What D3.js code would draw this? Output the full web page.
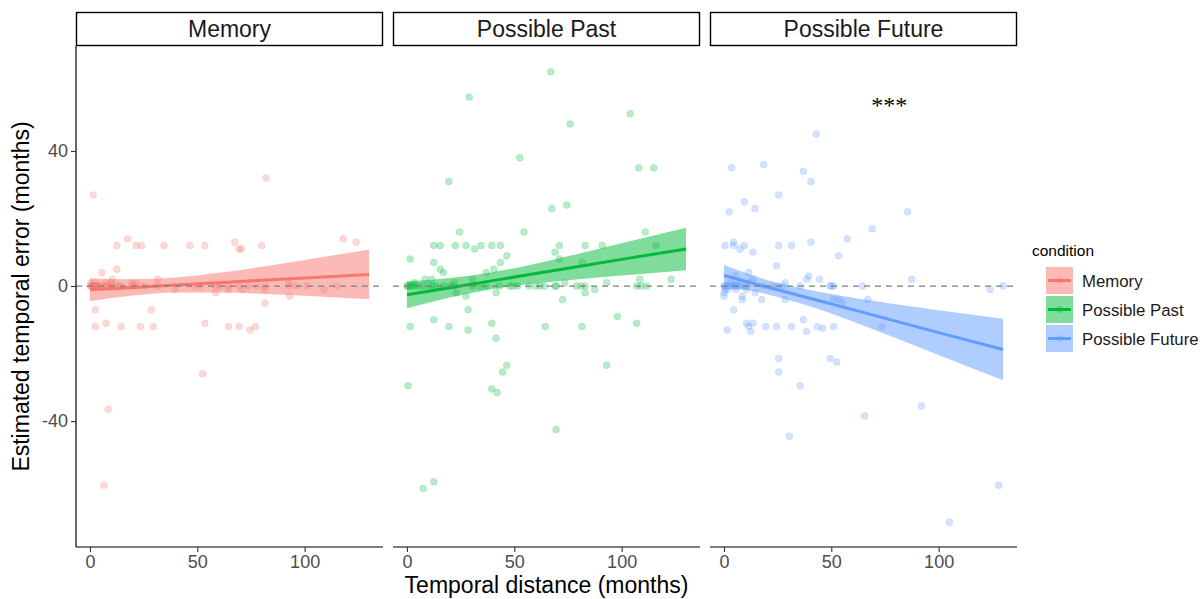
<!DOCTYPE html>
<html>
<head>
<meta charset="utf-8">
<script src="https://cdn.jsdelivr.net/npm/d3@7"></script>
<style>
  body { margin: 0; background: #fff; }
  text { font-family: "Liberation Sans", Arial, Helvetica, sans-serif; }
</style>
</head>
<body>
<svg id="chart" width="1200" height="599"></svg>
<script>
/* Data */
const conditions = ["Memory", "Possible Past", "Possible Future"];
const conditionColors = ["#F8766D", "#00BA38", "#619CFF"];

// [temporal distance, estimated error]
const memoryPoints = [
  [1.5, 27], [82, 32], [118, 14], [124, 13], [17.5, 14], [12.5, 12], [21.5, 12], [24, 12],
  [34.5, 12], [46.5, 12], [53.5, 12], [67.5, 13], [69.5, 11], [70.5, 11], [80, 12], [5.5, 4],
  [12.5, 5], [10.5, 2], [31.5, 2], [2.5, -7], [28.5, -7], [2.5, -12], [7.5, -11], [14.5, -12],
  [23.5, -12], [29.5, -12], [53.5, -11], [64.5, -12], [69.5, -12], [74.5, -13], [77, -12],
  [81.5, -5], [93, -3], [58.5, -2], [52.5, -26], [8.5, -36.5], [6.5, -59],
  [0, 0], [0.5, 0], [1, 0], [1.5, 0], [2, 0], [2.5, 0], [3, 0], [3.5, 0], [4, 0], [5, 0], [6, 0],
  [7.5, 0], [8, 0], [9, 0], [10, 0], [12, 0], [13.5, 0], [14.5, 0], [19.5, 0], [21.5, 0],
  [25.5, 0], [31.5, 0], [48.5, 0], [51, 0], [58.5, 0], [60.5, 0], [64.5, 0], [69.5, 0],
  [73.5, 0], [78, 0], [81.5, 0], [93, 0], [96, 0], [101, 0], [115, 0],
  [39.5, -1], [64.5, -1], [71, -1], [81.5, -1], [109, -1],
  [0.5, 1], [2.5, 1], [7.5, 1], [10, 1], [19.5, 1], [21.5, 1], [92.5, 1]
];

const pastPoints = [
  [67, 63.5], [29, 56], [104, 51], [76, 48], [52.5, 38], [108, 35], [115, 35], [19.5, 31],
  [67.5, 23], [74.5, 24], [24.5, 16], [54.5, 16], [111, 16], [12.5, 12], [15.5, 12], [22.5, 12],
  [27.5, 12], [31.5, 11], [34.5, 12], [39.5, 12], [43.5, 12], [71, 12], [83, 12], [91, 12],
  [116, 12], [69, 10], [71, 8], [46.5, 9], [1.5, 8], [12.5, 7], [43.5, 7], [15.5, 5], [17, 4],
  [40.5, 5], [37, 4], [81.5, 7], [8.5, 2], [11.5, 2], [30.5, 2], [123, 2], [108.5, 2], [93, 1],
  [73.5, 1], [3.5, 1], [22, 1],
  [1.5, -12], [12.5, -10], [19.5, -12], [28.5, -7], [28.5, -13], [39.5, -11], [41.5, -15.5],
  [64.5, -12], [81.5, -12], [98, -9], [107, -11], [27.5, -3], [41.5, -2], [72.5, -4], [83, -2],
  [87.5, -1], [23, -2], [0.5, -29.5], [46.5, -23.5], [44.5, -25.5], [39.5, -30.5], [42, -31.5],
  [93, -23.5], [69.5, -42.5], [7.5, -60], [12.5, -58],
  [0, 0], [0.5, 0], [1.5, 0], [2.5, 0], [3.5, 0], [5.5, 0], [7.5, 0], [10, 0], [12, 0],
  [13.5, 0], [17, 0], [20, 0], [22, 0], [30.5, 0], [34, 0], [37, 0], [43, 0], [48, 0],
  [49.5, 0], [51.5, 0], [57, 0], [60, 0], [62, 0], [64, 0], [69, 0], [69.5, 0], [79, 0],
  [81, 0], [83, 0], [107, 0], [109, 0], [111.5, 0]
];

const futurePoints = [
  [43, 45], [3.5, 35], [18.5, 36], [37, 34], [40.5, 31], [25.5, 27], [9.5, 25], [14.5, 23],
  [2.5, 22], [85.5, 22], [69, 17], [57.5, 14], [53.5, 9], [0.5, 12], [4.5, 13], [4.5, 12],
  [7.5, 11], [9.5, 12], [13.5, 10], [25.5, 12], [31.5, 12], [40.5, 13], [24.5, 6], [11.5, 4],
  [39.5, 3], [38.5, 2], [44.5, 2], [87.5, 2], [28.5, 1], [5.5, 3], [13.5, 2], [124, -1],
  [130, 0], [64.5, 0], [50, 0],
  [1.5, -13], [4.5, -7], [10.5, -11], [11.5, -12], [13.5, -11], [12.5, -13.5], [19.5, -12],
  [24.5, -12], [31.5, -12], [37, -10], [38.5, -13.5], [43.5, -12], [46, -12.5], [51, -12],
  [73.5, -12], [25.5, -21.5], [25.5, -25.5], [49.5, -21.5], [52.5, -22.5], [35.5, -29.5],
  [92, -35.5], [65.5, -38.5], [30.5, -44.5], [128, -59], [105, -70], [0, -3], [8.5, -3],
  [8.5, -4], [14.5, -2], [17.5, -4], [28.5, -4], [51, -4], [53.5, -4], [55, -5], [67, -4],
  [0, 0], [0.5, 0], [1.5, 0], [2.5, 0], [3.5, 0], [4.5, 0], [5.5, 0], [6.5, 0], [7.5, 0],
  [9.5, 0], [10.5, 0], [18.5, 0], [22.5, 0], [25, 0], [27.5, 0], [35.5, 0], [49.5, 0], [51, 0],
  [0.5, -1], [1.5, -1], [5.5, -1], [10.5, -1], [0, -2], [3, 1], [6, 1], [12, 1]
];

// linear fit with 95% band, read at these distances
const fitX = [0, 20, 40, 60, 80, 100, 130];
const memoryFit = [-1.1, -0.4, 0.3, 1.0, 1.7, 2.4, 3.45];
const memoryLow = [-4.4, -2.8, -1.9, -1.9, -2.3, -2.9, -3.95];
const memoryHigh = [2.2, 2.0, 2.5, 3.9, 5.7, 7.7, 10.85];
const pastFit = [-2.6, -0.5, 1.6, 3.7, 5.8, 7.9, 11.0];
const pastLow = [-6.6, -3.4, -0.9, 0.8, 2.0, 3.1, 4.7];
const pastHigh = [1.4, 2.4, 4.1, 6.6, 9.6, 12.7, 17.3];
const futureFit = [3.1, -0.3, -3.6, -7.0, -10.4, -13.8, -18.8];
const futureLow = [0.0, -2.4, -6.0, -10.5, -15.4, -20.4, -27.9];
const futureHigh = [6.2, 1.8, -1.2, -3.5, -5.4, -7.2, -9.7];

const xTicks = [0, 50, 100];
const yTicks = [-40, 0, 40];

// significance mark in the Possible Future panel
const starPanel = 2;
const starXY = [77, 54.5];
const starText = "***";

/* Layout */
const svg = d3.select("#chart");
const panelLeft = [76, 393, 710];
const panelWidth = 307;
const plotTop = 46;
const plotBottom = 547;

const xScale = d3.scaleLinear().domain([-6.5, 136.5]).range([0, panelWidth]);
const yScale = d3.scaleLinear().domain([-77.3, 71.1]).range([plotBottom, plotTop]);
const plainNumber = (d) => String(d);

const series = [
  { points: memoryPoints, fit: memoryFit, low: memoryLow, high: memoryHigh },
  { points: pastPoints, fit: pastFit, low: pastLow, high: pastHigh },
  { points: futurePoints, fit: futureFit, low: futureLow, high: futureHigh }
];

const area = d3.area()
  .x((d) => xScale(d.x))
  .y0((d) => yScale(d.lo))
  .y1((d) => yScale(d.hi))
  .curve(d3.curveMonotoneX);

const line = d3.line()
  .x((d) => xScale(d.x))
  .y((d) => yScale(d.fit));

series.forEach((s, i) => {
  const color = conditionColors[i];
  const g = svg.append("g").attr("transform", `translate(${panelLeft[i]},0)`);
  const band = fitX.map((x, k) => ({ x: x, fit: s.fit[k], lo: s.low[k], hi: s.high[k] }));

  // points
  g.selectAll(".point")
    .data(s.points)
    .enter()
    .append("circle")
    .attr("class", "point")
    .attr("cx", (d) => xScale(d[0]))
    .attr("cy", (d) => yScale(d[1]))
    .attr("r", 3.5)
    .attr("fill", color)
    .attr("fill-opacity", 0.28)
    .attr("stroke", color)
    .attr("stroke-opacity", 0.22)
    .attr("stroke-width", 0.6);

  // confidence band + fit
  g.append("path")
    .attr("d", area(band))
    .attr("fill", color)
    .attr("fill-opacity", 0.5);

  g.append("path")
    .attr("d", line(band))
    .attr("fill", "none")
    .attr("stroke", color)
    .attr("stroke-width", 3);

  // zero reference
  g.append("line")
    .attr("x1", 0)
    .attr("x2", panelWidth)
    .attr("y1", yScale(0))
    .attr("y2", yScale(0))
    .attr("stroke", "#7f7f7f")
    .attr("stroke-width", 1.2)
    .attr("stroke-dasharray", "6,5");

  // x axis
  const xAxis = g.append("g")
    .attr("transform", `translate(0,${plotBottom})`)
    .call(d3.axisBottom(xScale).tickValues(xTicks).tickFormat(plainNumber).tickSize(5).tickPadding(3));
  xAxis.select(".domain").attr("d", `M0,0H${panelWidth}`).attr("stroke", "#000").attr("stroke-width", 1.2);
  xAxis.selectAll(".tick line").attr("stroke", "#333").attr("stroke-width", 1.1);
  xAxis.selectAll(".tick text")
    .attr("fill", "#4d4d4d")
    .style("font-size", "18px")
    .style("font-family", "'Liberation Sans', Arial, sans-serif");

  // strip
  g.append("rect")
    .attr("x", 0.5)
    .attr("y", 12.5)
    .attr("width", panelWidth - 1)
    .attr("height", 33)
    .attr("fill", "#fff")
    .attr("stroke", "#000")
    .attr("stroke-width", 1.4);
  g.append("text")
    .attr("x", panelWidth / 2)
    .attr("y", 37)
    .attr("text-anchor", "middle")
    .style("font-size", "23px")
    .attr("fill", "#1a1a1a")
    .text(conditions[i]);

  if (i === starPanel) {
    g.append("text")
      .attr("x", xScale(starXY[0]))
      .attr("y", yScale(starXY[1]) + 11)
      .attr("text-anchor", "middle")
      .style("font-family", "'Liberation Serif', 'DejaVu Serif', serif")
      .style("font-size", "24px")
      .attr("fill", "#000")
      .text(starText);
  }
});

// y axis on the first panel
const yAxis = svg.append("g")
  .attr("transform", `translate(${panelLeft[0]},0)`)
  .call(d3.axisLeft(yScale).tickValues(yTicks).tickFormat(plainNumber).tickSize(5).tickPadding(3));
yAxis.select(".domain").attr("d", `M0,${plotTop}V${plotBottom}`).attr("stroke", "#000").attr("stroke-width", 1.2);
yAxis.selectAll(".tick line").attr("stroke", "#333").attr("stroke-width", 1.1);
yAxis.selectAll(".tick text")
  .attr("fill", "#4d4d4d")
  .style("font-size", "18px")
  .style("font-family", "'Liberation Sans', Arial, sans-serif");

// axis titles
svg.append("text")
  .attr("x", (panelLeft[0] + panelLeft[2] + panelWidth) / 2)
  .attr("y", 593)
  .attr("text-anchor", "middle")
  .style("font-size", "23px")
  .text("Temporal distance (months)");

svg.append("text")
  .attr("transform", `translate(29,${(plotTop + plotBottom) / 2}) rotate(-90)`)
  .attr("text-anchor", "middle")
  .style("font-size", "23px")
  .text("Estimated temporal error (months)");

// legend
const legend = svg.append("g").attr("transform", "translate(1032,0)");
legend.append("text")
  .attr("x", 0)
  .attr("y", 256)
  .style("font-size", "15.5px")
  .text("condition");

const keys = legend.selectAll(".key")
  .data(conditions)
  .enter()
  .append("g")
  .attr("class", "key")
  .attr("transform", (d, i) => `translate(14,${267 + i * 29})`);

keys.append("rect")
  .attr("width", 27)
  .attr("height", 27)
  .attr("fill", (d, i) => conditionColors[i])
  .attr("fill-opacity", 0.5);
keys.append("line")
  .attr("x1", 2)
  .attr("x2", 25)
  .attr("y1", 13.5)
  .attr("y2", 13.5)
  .attr("stroke", (d, i) => conditionColors[i])
  .attr("stroke-width", 3);
keys.append("circle")
  .attr("cx", 13.5)
  .attr("cy", 13.5)
  .attr("r", 3.5)
  .attr("fill", (d, i) => conditionColors[i])
  .attr("fill-opacity", 0.28);
keys.append("text")
  .attr("x", 36)
  .attr("y", 13.5)
  .attr("dy", "0.36em")
  .style("font-size", "16.8px")
  .attr("fill", "#1a1a1a")
  .text((d) => d);
</script>
</body>
</html>
